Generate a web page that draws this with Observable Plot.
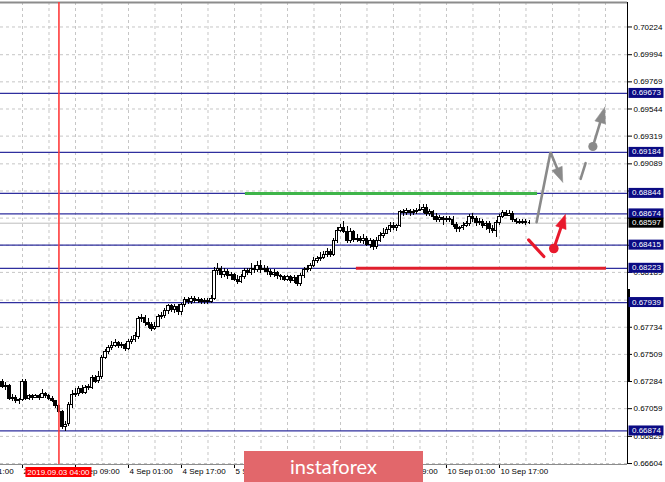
<!DOCTYPE html>
<html><head><meta charset="utf-8">
<script src="https://cdn.jsdelivr.net/npm/d3@7"></script>
<script src="https://cdn.jsdelivr.net/npm/@observablehq/plot@0.6"></script>
<style>
html,body{margin:0;padding:0;background:#fff;}
#wrap{position:relative;width:665px;height:482px;overflow:hidden;background:#fff;}
#wrap svg{position:absolute;left:0;top:0;}
#banner{position:absolute;left:244px;top:451px;width:179px;height:31px;background:#e2676b;color:#fff;font-family:Lato,"Open Sans",sans-serif;font-size:20px;line-height:30px;text-align:center;z-index:2;}
</style></head>
<body><div id="wrap"><div id="banner">instaforex</div></div>
<script>
// ---- Data (AUD/USD H1, MT4 style) ----
const firstBar = 2; // bar index of first candle
const barOpen = [0.6728,0.6724,0.6725,0.6714,0.6715,0.6712,0.6713,0.6728,0.6714,0.6716,
0.6715,0.6716,0.6715,0.6718,0.6716,0.6714,0.6712,0.6708,0.6703,0.6691,
0.6693,0.6709,0.6717,0.6718,0.6722,0.6719,0.6723,0.6723,0.6731,0.6729,
0.6732,0.6748,0.6753,0.6756,0.6758,0.6760,0.6758,0.6759,0.6755,0.6761,
0.6763,0.6765,0.6780,0.6781,0.6777,0.6775,0.6772,0.6774,0.6782,0.6783,
0.6787,0.6791,0.6788,0.6790,0.6786,0.6792,0.6796,0.6794,0.6797,0.6795,
0.6796,0.6794,0.6795,0.6794,0.6797,0.6820,0.6822,0.6817,0.6819,0.6816,
0.6817,0.6813,0.6811,0.6815,0.6820,0.6818,0.6822,0.6821,0.6824,0.6821,
0.6822,0.6819,0.6817,0.6818,0.6816,0.6815,0.6813,0.6815,0.6812,0.6814,
0.6809,0.6816,0.6821,0.6822,0.6824,0.6828,0.6830,0.6831,0.6833,0.6836,
0.6833,0.6845,0.6853,0.6856,0.6852,0.6845,0.6852,0.6846,0.6847,0.6845,
0.6847,0.6842,0.6845,0.6840,0.6845,0.6849,0.6851,0.6854,0.6857,0.6856,
0.6857,0.6869,0.6868,0.6870,0.6868,0.6869,0.6870,0.6871,0.6872,0.6867,
0.6869,0.6865,0.6862,0.6864,0.6862,0.6863,0.6862,0.6858,0.6855,0.6856,
0.6857,0.6859,0.6865,0.6863,0.6860,0.6861,0.6857,0.6859,0.6855,0.6853,
0.6860,0.6865,0.6868,0.6866,0.6867,0.6862,0.6861,0.6860,0.6861,0.6860];
const barHigh = [0.6730,0.6728,0.6726,0.6718,0.6717,0.6714,0.6730,0.6730,0.6718,0.6718,
0.6718,0.6718,0.6722,0.6719,0.6718,0.6716,0.6713,0.6709,0.6704,0.6695,
0.6711,0.6721,0.6723,0.6724,0.6725,0.6725,0.6726,0.6733,0.6733,0.6737,
0.6750,0.6755,0.6758,0.6762,0.6763,0.6762,0.6761,0.6760,0.6763,0.6766,
0.6769,0.6782,0.6784,0.6783,0.6781,0.6777,0.6777,0.6784,0.6786,0.6789,
0.6792,0.6792,0.6792,0.6792,0.6793,0.6798,0.6798,0.6799,0.6799,0.6798,
0.6797,0.6797,0.6797,0.6800,0.6823,0.6826,0.6824,0.6822,0.6821,0.6819,
0.6818,0.6816,0.6817,0.6822,0.6822,0.6826,0.6825,0.6828,0.6829,0.6825,
0.6824,0.6821,0.6821,0.6820,0.6817,0.6816,0.6816,0.6816,0.6816,0.6816,
0.6818,0.6823,0.6825,0.6826,0.6831,0.6832,0.6835,0.6836,0.6839,0.6838,
0.6847,0.6856,0.6859,0.6861,0.6857,0.6855,0.6854,0.6850,0.6849,0.6850,
0.6849,0.6847,0.6846,0.6848,0.6852,0.6855,0.6856,0.6860,0.6860,0.6859,
0.6870,0.6871,0.6872,0.6871,0.6871,0.6872,0.6875,0.6875,0.6875,0.6871,
0.6870,0.6868,0.6866,0.6865,0.6865,0.6865,0.6865,0.6860,0.6857,0.6860,
0.6861,0.6867,0.6868,0.6865,0.6864,0.6863,0.6861,0.6861,0.6858,0.6862,
0.6867,0.6870,0.6870,0.6870,0.6869,0.6864,0.6863,0.6863,0.6863,0.6862];
const barLow = [0.6723,0.6721,0.6713,0.6712,0.6710,0.6709,0.6712,0.6713,0.6713,0.6713,
0.6714,0.6713,0.6714,0.6714,0.6713,0.6711,0.6706,0.6702,0.6689,0.6687,
0.6691,0.6706,0.6715,0.6716,0.6718,0.6718,0.6721,0.6722,0.6727,0.6727,
0.6730,0.6747,0.6751,0.6754,0.6757,0.6756,0.6756,0.6753,0.6754,0.6759,
0.6761,0.6763,0.6777,0.6774,0.6772,0.6770,0.6771,0.6773,0.6780,0.6781,
0.6784,0.6786,0.6785,0.6783,0.6783,0.6790,0.6792,0.6792,0.6793,0.6793,
0.6792,0.6792,0.6792,0.6793,0.6796,0.6816,0.6814,0.6815,0.6813,0.6812,
0.6811,0.6809,0.6810,0.6813,0.6816,0.6816,0.6818,0.6819,0.6818,0.6819,
0.6816,0.6815,0.6815,0.6813,0.6812,0.6811,0.6811,0.6810,0.6810,0.6807,
0.6807,0.6814,0.6819,0.6820,0.6823,0.6826,0.6828,0.6830,0.6831,0.6831,
0.6832,0.6843,0.6852,0.6851,0.6843,0.6843,0.6844,0.6844,0.6843,0.6842,
0.6840,0.6839,0.6837,0.6838,0.6844,0.6847,0.6850,0.6852,0.6854,0.6853,
0.6856,0.6865,0.6866,0.6865,0.6866,0.6867,0.6869,0.6868,0.6865,0.6865,
0.6862,0.6860,0.6860,0.6858,0.6860,0.6860,0.6856,0.6852,0.6852,0.6854,
0.6856,0.6857,0.6860,0.6857,0.6858,0.6855,0.6854,0.6851,0.6851,0.6848,
0.6858,0.6864,0.6865,0.6865,0.6860,0.6859,0.6859,0.6859,0.6858,0.6859];
const barClose = [0.6724,0.6725,0.6714,0.6715,0.6712,0.6713,0.6728,0.6714,0.6716,0.6715,
0.6716,0.6715,0.6718,0.6716,0.6714,0.6712,0.6708,0.6703,0.6691,0.6692,
0.6709,0.6717,0.6718,0.6722,0.6719,0.6723,0.6724,0.6731,0.6728,0.6732,
0.6748,0.6753,0.6756,0.6758,0.6760,0.6758,0.6759,0.6755,0.6761,0.6763,
0.6766,0.6780,0.6781,0.6777,0.6775,0.6772,0.6774,0.6782,0.6783,0.6787,
0.6791,0.6788,0.6790,0.6786,0.6792,0.6796,0.6794,0.6797,0.6795,0.6796,
0.6794,0.6795,0.6794,0.6797,0.6820,0.6822,0.6817,0.6819,0.6816,0.6817,
0.6813,0.6811,0.6815,0.6820,0.6818,0.6822,0.6821,0.6824,0.6821,0.6822,
0.6819,0.6817,0.6818,0.6816,0.6815,0.6813,0.6815,0.6812,0.6814,0.6809,
0.6816,0.6821,0.6822,0.6824,0.6828,0.6830,0.6831,0.6833,0.6836,0.6833,
0.6845,0.6853,0.6856,0.6852,0.6845,0.6852,0.6846,0.6847,0.6845,0.6847,
0.6842,0.6845,0.6840,0.6845,0.6849,0.6851,0.6854,0.6857,0.6856,0.6857,
0.6869,0.6868,0.6870,0.6868,0.6869,0.6870,0.6871,0.6872,0.6867,0.6869,
0.6865,0.6862,0.6864,0.6862,0.6863,0.6862,0.6858,0.6855,0.6856,0.6857,
0.6859,0.6865,0.6863,0.6860,0.6861,0.6857,0.6859,0.6855,0.6853,0.6860,
0.6865,0.6868,0.6866,0.6867,0.6862,0.6861,0.6860,0.6861,0.6860,0.6860];

const levels = [0.69673, 0.69184, 0.68844, 0.68674, 0.68415, 0.68223, 0.67939, 0.66874];
const currentPrice = 0.68597;
const yTicks = [0.70224,0.69994,0.69769,0.69544,0.69319,0.69089,0.68864,0.68639,0.68414,0.68189,0.67959,0.67734,0.67509,0.67284,0.67059,0.66829,0.66604];
// tick labels fully covered by the level boxes in the terminal are not printed
const hiddenTickLabels = [0.68864, 0.68639, 0.68414, 0.67959];
const gridBars = [8,16,24,32,40,48,56,64,72,80,88,96,104,112,120,128,136,144,152,160,168,176,184];
const tickBars = [8,24,40,56,72,88,104,120,136,152];
// time labels that remain visible (the ones fully under the logo banner are omitted)
const xLabelBars = [-8,8,24,40,56,72,120,136,152];
const xLabelTexts = ["2 Sep 01:00","2 Sep 17:00","3 Sep 09:00","4 Sep 01:00","4 Sep 17:00","5 Sep 09:00","9 Sep 09:00","10 Sep 01:00","10 Sep 17:00"];
const markerBar = 19;
const markerText = "2019.09.03 04:00";

// hand-drawn annotations (bar index, price)
const greenSeg = [{x1: 75.3, x2: 163.5, y: 0.68844}];
const redSeg = [{x1: 108.8, x2: 184.3, y: 0.68223}];
const grayZigzag = [{bar: 163.2, price: 0.68605}, {bar: 167.4, price: 0.69186}, {bar: 171.1, price: 0.68937}];
const grayDash = [{bar: 176.5, price: 0.68965}, {bar: 178.0, price: 0.69095}];
const grayArrow = [{bar: 180.2, price: 0.69233}, {bar: 183.8, price: 0.69559}];
const redSlash = [{bar: 160.8, price: 0.68459}, {bar: 165.4, price: 0.68321}];
const redArrow = [{bar: 168.4, price: 0.68387}, {bar: 171.9, price: 0.68669}];
const volumeBar = [{top: 0.68047, bottom: 0.67276}];

// ---- Chart ----
const X_DOMAIN = [1.358, 190.65];
const Y_DOMAIN = [0.66596, 0.70427];
const FONT = "'Liberation Sans', Arial, sans-serif";
const GRID = "#c6c6c6", LEVEL = "#2f2f9e", GRAY = "#8a8a8a", RED = "#e8192c";

const candles = barClose.map((c, k) => ({bar: firstBar + k, open: barOpen[k], high: barHigh[k], low: barLow[k], close: c}));
const xLabels = xLabelBars.map((b, k) => ({bar: b, label: xLabelTexts[k]}));
const fmt5 = d3.format(".5f");

const base = {
  width: 665, height: 482,
  marginLeft: 0, marginRight: 38, marginTop: 2, marginBottom: 18,
  x: {domain: X_DOMAIN, axis: "bottom", ticks: tickBars, tickFormat: () => "", tickSize: 4, label: null},
  y: {domain: Y_DOMAIN, axis: "right", ticks: yTicks, tickFormat: v => hiddenTickLabels.includes(v) ? "" : fmt5(v), tickSize: 4, tickPadding: 2, label: null},
  style: {fontFamily: FONT, fontSize: "8px", background: "transparent", color: "#000", overflow: "visible"}
};

const probe = Plot.plot({...base, marks: [Plot.ruleY(yTicks), Plot.ruleX(gridBars)]});
const psx = probe.scale("x"), psy = probe.scale("y");
const sx = d3.scaleLinear(psx.domain, psx.range);
const sy = d3.scaleLinear(psy.domain, psy.range);

function arrowParts(path, len, halfW) {
  const a = path[path.length - 2], b = path[path.length - 1];
  const ax = sx(a.bar), ay = sy(a.price), bx = sx(b.bar), by = sy(b.price);
  const d = Math.hypot(bx - ax, by - ay), ux = (bx - ax) / d, uy = (by - ay) / d;
  const cx = bx - len * ux, cy = by - len * uy, nx = -uy, ny = ux;
  const toData = (px, py) => ({bar: sx.invert(px), price: sy.invert(py)});
  const shaft = path.slice(0, -1).concat([toData(bx - 0.6 * len * ux, by - 0.6 * len * uy)]);
  const head = [toData(bx, by), toData(cx + halfW * nx, cy + halfW * ny), toData(cx - halfW * nx, cy - halfW * ny), toData(bx, by)];
  return {shaft, head};
}
const g1 = arrowParts(grayZigzag, 15, 5.5);
const g2 = arrowParts(grayArrow, 16, 5.5);
const r1 = arrowParts(redArrow, 14, 5.5);

const W = 0.38; // half body width in bars
const plot = Plot.plot({
  ...base,
  marks: [
    Plot.ruleY(yTicks, {stroke: GRID, strokeDasharray: "3,3"}),
    Plot.ruleX(gridBars, {stroke: GRID, strokeDasharray: "3,3"}),
    Plot.ruleY([Y_DOMAIN[1]], {stroke: "#8c8c8c", strokeWidth: 2}),
    Plot.ruleY([Y_DOMAIN[0]], {stroke: "#8c8c8c"}),
    Plot.ruleX([X_DOMAIN[1]], {stroke: "#000"}),
    Plot.ruleX(volumeBar, {x: () => X_DOMAIN[1], y1: "bottom", y2: "top", stroke: "#000", strokeWidth: 3, dx: 1}),
    Plot.ruleY([currentPrice], {stroke: "#bdbdbd"}),
    Plot.ruleY(levels, {stroke: LEVEL, strokeWidth: 1.2}),
    Plot.ruleY(greenSeg, {y: "y", x1: "x1", x2: "x2", stroke: "#3fb54a", strokeWidth: 3}),
    Plot.ruleY(redSeg, {y: "y", x1: "x1", x2: "x2", stroke: "#e01f2d", strokeWidth: 3}),
    // candles
    Plot.ruleX(candles, {x: "bar", y1: "low", y2: "high", stroke: "#000", strokeWidth: 1, shapeRendering: "crispEdges"}),
    Plot.rect(candles.filter(d => d.close < d.open), {x1: d => d.bar - W, x2: d => d.bar + W, y1: "open", y2: "close", fill: "#000", stroke: "#000", strokeWidth: 1, shapeRendering: "crispEdges"}),
    Plot.rect(candles.filter(d => d.close > d.open), {x1: d => d.bar - W, x2: d => d.bar + W, y1: "open", y2: "close", fill: "#fff", stroke: "#000", strokeWidth: 1, shapeRendering: "crispEdges"}),
    Plot.ruleY(candles.filter(d => d.close === d.open), {y: "open", x1: d => d.bar - W, x2: d => d.bar + W, stroke: "#000", strokeWidth: 1, shapeRendering: "crispEdges"}),
    // marker line
    Plot.ruleX([markerBar], {stroke: "#ff3b3b", strokeWidth: 1.6}),
    // gray scenario
    Plot.line(g1.shaft, {x: "bar", y: "price", stroke: GRAY, strokeWidth: 2.6, strokeLinejoin: "miter"}),
    Plot.line(g1.head, {x: "bar", y: "price", fill: GRAY, stroke: GRAY, strokeWidth: 0.5}),
    Plot.line(grayDash, {x: "bar", y: "price", stroke: GRAY, strokeWidth: 2.6}),
    Plot.line(g2.shaft, {x: "bar", y: "price", stroke: GRAY, strokeWidth: 2.6}),
    Plot.line(g2.head, {x: "bar", y: "price", fill: GRAY, stroke: GRAY, strokeWidth: 0.5}),
    Plot.dot(grayArrow.slice(0, 1), {x: "bar", y: "price", r: 4.6, fill: GRAY}),
    // red scenario
    Plot.line(redSlash, {x: "bar", y: "price", stroke: RED, strokeWidth: 3.2}),
    Plot.line(r1.shaft, {x: "bar", y: "price", stroke: RED, strokeWidth: 3}),
    Plot.line(r1.head, {x: "bar", y: "price", fill: RED, stroke: RED, strokeWidth: 0.5}),
    Plot.dot(redArrow.slice(0, 1), {x: "bar", y: "price", r: 4.8, fill: RED}),
    // time labels
    Plot.text(xLabels, {x: "bar", text: "label", frameAnchor: "bottom", dy: 9, dx: 1, textAnchor: "start", fill: "#000"})
  ]
});

const wrap = document.getElementById("wrap");
wrap.prepend(plot);

// right-axis price boxes and time marker box drawn from the plot's scales
const fsx = plot.scale("x"), fsy = plot.scale("y");
const X = d3.scaleLinear(fsx.domain, fsx.range), Y = d3.scaleLinear(fsy.domain, fsy.range);
const svg = d3.select(plot);
const right = X(X_DOMAIN[1]);
function priceBox(v, bg) {
  const g = svg.append("g").attr("text-anchor", "start");
  g.append("rect").attr("x", right + 1.5).attr("y", Y(v) - 5).attr("width", 35).attr("height", 10).attr("fill", bg);
  g.append("text").attr("x", right + 5).attr("y", Y(v)).attr("dy", "0.32em").attr("fill", "#fff")
    .attr("text-anchor", "start").attr("font-family", FONT).attr("font-size", 8).text(fmt5(v));
}
levels.forEach(v => priceBox(v, "#0b0b84"));
priceBox(currentPrice, "#000");
const mx = X(markerBar);
svg.append("rect").attr("x", mx - 33).attr("y", 467).attr("width", 66).attr("height", 10).attr("fill", "#ff0000");
svg.append("text").attr("x", mx).attr("y", 472).attr("dy", "0.32em").attr("text-anchor", "middle").attr("fill", "#fff")
  .attr("font-family", FONT).attr("font-size", 8).text(markerText);
</script>
</body></html>
